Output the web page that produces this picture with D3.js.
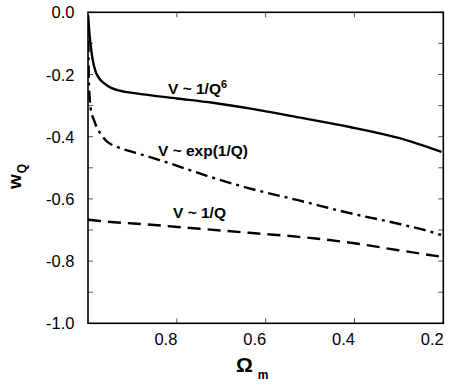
<!DOCTYPE html>
<html><head><meta charset="utf-8">
<script src="https://cdn.jsdelivr.net/npm/d3@7"></script>
<style>
html,body{margin:0;padding:0;background:#fff;}
svg{display:block;}
text{font-family:"Liberation Sans",Arial,Helvetica,sans-serif;fill:#000;}
</style></head>
<body>
<svg id="chart" width="457" height="388"></svg>
<script>
// Data (Omega_m, w_Q)
const omegaInv6 = [1.0,0.996,0.990,0.983,0.975,0.964,0.948,0.934,0.90,0.875,0.80,0.719,0.637,0.525,0.413,0.301,0.204];
const wInv6     = [-0.01,-0.08,-0.148,-0.19,-0.212,-0.228,-0.243,-0.250,-0.259,-0.264,-0.277,-0.291,-0.309,-0.338,-0.368,-0.404,-0.449];

const omegaExp = [1.0,0.999,0.998,0.996,0.994,0.987,0.979,0.968,0.957,0.94,0.927,0.90,0.875,0.839,0.78,0.734,0.637,0.525,0.413,0.301,0.223,0.205];
const wExp     = [-0.01,-0.12,-0.22,-0.28,-0.309,-0.345,-0.373,-0.398,-0.416,-0.43,-0.437,-0.449,-0.459,-0.475,-0.503,-0.525,-0.566,-0.605,-0.645,-0.680,-0.708,-0.716];

const omegaInv1 = [1.0,0.973,0.85,0.749,0.637,0.525,0.413,0.301,0.205];
const wInv1     = [-0.667,-0.671,-0.684,-0.696,-0.709,-0.722,-0.740,-0.765,-0.786];

const xTickValues = [0.8,0.6,0.4,0.2];
const xTickLabels = ["0.8","0.6","0.4","0.2"];
const yTickValues = [0,-0.2,-0.4,-0.6,-0.8,-1.0];
const yTickLabels = ["0.0","-0.2","-0.4","-0.6","-0.8","-1.0"];
const yMinorValues = [0,-0.1,-0.2,-0.3,-0.4,-0.5,-0.6,-0.7,-0.8,-0.9,-1.0];

const seriesLabels = ["V ~ 1/Q", "V ~ exp(1/Q)", "V ~ 1/Q"];

const L = 88, R = 443.3, T = 12.3, B = 323.3;
const svg = d3.select("#chart");
const x = d3.scaleLinear().domain([1.0, 0.2]).range([L, R]);
const y = d3.scaleLinear().domain([-1.0, 0.0]).range([B, T]);

// ticks
const tickLen = 5;
const g = svg.append("g");
xTickValues.forEach(v => {
  g.append("line").attr("x1", x(v)).attr("x2", x(v)).attr("y1", B).attr("y2", B - tickLen)
    .attr("stroke", "#555").attr("stroke-width", 1);
  g.append("line").attr("x1", x(v)).attr("x2", x(v)).attr("y1", T).attr("y2", T + tickLen)
    .attr("stroke", "#555").attr("stroke-width", 1);
});
yMinorValues.forEach(v => {
  g.append("line").attr("x1", L).attr("x2", L + tickLen).attr("y1", y(v)).attr("y2", y(v))
    .attr("stroke", "#555").attr("stroke-width", 1);
  g.append("line").attr("x1", R).attr("x2", R - tickLen).attr("y1", y(v)).attr("y2", y(v))
    .attr("stroke", "#555").attr("stroke-width", 1);
});

// tick labels
xTickValues.forEach((v, i) => {
  svg.append("text").attr("x", x(v) + 0.5).attr("y", 345)
    .attr("text-anchor", "end").attr("font-size", 16.5).text(xTickLabels[i]);
});
yTickValues.forEach((v, i) => {
  svg.append("text").attr("x", 74.5).attr("y", y(v) + 6)
    .attr("text-anchor", "end").attr("font-size", 16.5).text(yTickLabels[i]);
});

// lines
svg.append("clipPath").attr("id", "clip").append("rect")
  .attr("x", L).attr("y", T).attr("width", R - L).attr("height", B - T);
const line = d3.line().x(d => x(d[0])).y(d => y(d[1])).curve(d3.curveMonotoneX);
const zip = (a, b) => a.map((v, i) => [v, b[i]]);

const plot = svg.append("g").attr("clip-path", "url(#clip)");
plot.append("path").datum(zip(omegaInv6, wInv6)).attr("d", line)
  .attr("fill", "none").attr("stroke", "#000").attr("stroke-width", 2.4);
plot.append("path").datum(zip(omegaExp, wExp)).attr("d", line)
  .attr("fill", "none").attr("stroke", "#000").attr("stroke-width", 2.4)
  .attr("stroke-dasharray", "12,5,3,5");
plot.append("path").datum(zip(omegaInv1, wInv1)).attr("d", line)
  .attr("fill", "none").attr("stroke", "#000").attr("stroke-width", 2.4)
  .attr("stroke-dasharray", "13,7");

// frame
svg.append("rect").attr("x", L).attr("y", T).attr("width", R - L).attr("height", B - T)
  .attr("fill", "none").attr("stroke", "#000").attr("stroke-width", 1.6);

// series labels
const t1 = svg.append("text").attr("x", 168).attr("y", 93.5).attr("font-size", 15.5).attr("font-weight", "bold");
t1.append("tspan").text(seriesLabels[0]);
t1.append("tspan").attr("font-size", 11).attr("dy", -6).text("6");
svg.append("text").attr("x", 158).attr("y", 155.5).attr("font-size", 15.5).attr("font-weight", "bold").text(seriesLabels[1]);
svg.append("text").attr("x", 173).attr("y", 217.5).attr("font-size", 15.5).attr("font-weight", "bold").text(seriesLabels[2]);

// axis titles
const xt = svg.append("text").attr("x", 236).attr("y", 372)
  .attr("font-family", "'Liberation Serif','Times New Roman',serif").attr("font-weight", "bold").attr("font-size", 21);
xt.append("tspan").text("Ω");
xt.append("tspan").attr("font-size", 12).attr("dx", 5).attr("dy", 7).text("m");

const yt = svg.append("text").attr("transform", "translate(21,189) rotate(-90)")
  .attr("font-weight", "bold").attr("font-size", 19);
yt.append("tspan").text("w");
yt.append("tspan").attr("font-size", 12).attr("dx", 1).attr("dy", 5).text("Q");
</script>
</body></html>
